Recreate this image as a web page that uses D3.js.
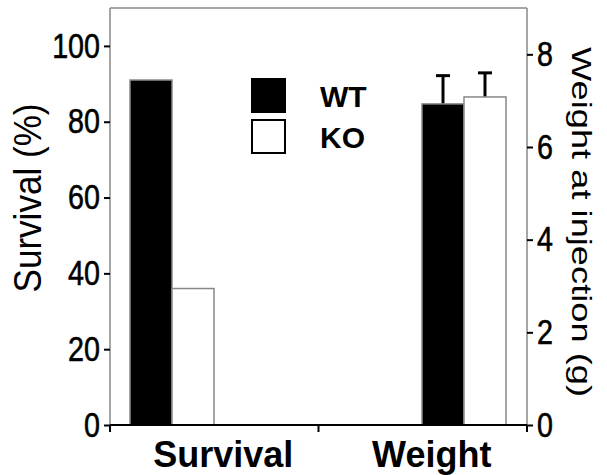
<!DOCTYPE html>
<html>
<head>
<meta charset="utf-8">
<script src="https://cdn.jsdelivr.net/npm/d3@7"></script>
<style>
  body { margin: 0; background: #fff; }
  .tick text { font-family: "Liberation Sans", Arial, sans-serif; font-size: 35px; stroke: #000; stroke-width: 0.6px; }
</style>
</head>
<body>
<div id="chart"></div>
<script>
// data
var categories = ["Survival", "Weight"];
var groups = ["WT", "KO"];
var survival = [91, 36];        // % (left axis)
var weight = [6.93, 7.08];      // g (right axis)
var weightErr = [0.61, 0.52];   // upper error
var leftTicks = [0, 20, 40, 60, 80, 100];
var rightTicks = [0, 2, 4, 6, 8];

var width = 607, height = 475;
var margin = { top: 8, right: 80, bottom: 50, left: 110 };
var innerW = 527 - margin.left, innerH = 425 - margin.top;
var squeeze = 0.82; // tick labels are a condensed face

var svg = d3.select("#chart").append("svg")
    .attr("width", width)
    .attr("height", height);

var g = svg.append("g")
    .attr("transform", "translate(" + margin.left + "," + margin.top + ")");

// scales
var x = d3.scaleBand().domain(categories).range([0, innerW]);
var barW = 42;
var inner = d3.scaleBand().domain(groups).range([0, barW * 2]);
var yL = d3.scaleLinear().domain([0, 110]).range([innerH, 0]);
var yR = d3.scaleLinear().domain([0, 9]).range([innerH, 0]);

// survival sits left in its band, weight sits right
var groupOffset = { Survival: 20, Weight: x.bandwidth() - 21 - barW * 2 };

var fills = { WT: "#000", KO: "#fff" };

// frame top
g.append("line")
    .attr("x1", 0).attr("x2", innerW)
    .attr("y1", 0).attr("y2", 0)
    .attr("stroke", "#888").attr("stroke-width", 1.5);

// survival bars
g.selectAll(".sbar")
    .data(groups)
    .enter().append("rect")
    .attr("x", function(d) { return x("Survival") + groupOffset.Survival + inner(d); })
    .attr("y", function(d, i) { return yL(survival[i]); })
    .attr("width", inner.bandwidth())
    .attr("height", function(d, i) { return innerH - yL(survival[i]); })
    .attr("fill", function(d) { return fills[d]; })
    .attr("stroke", "#888").attr("stroke-width", 1.5);

// weight error bars (upper only)
groups.forEach(function(d, i) {
    var cx = x("Weight") + groupOffset.Weight + inner(d) + inner.bandwidth() / 2;
    var top = yR(weight[i] + weightErr[i]);
    g.append("line")
        .attr("x1", cx).attr("x2", cx)
        .attr("y1", yR(weight[i])).attr("y2", top)
        .attr("stroke", "#000").attr("stroke-width", 3);
    g.append("line")
        .attr("x1", cx - 7).attr("x2", cx + 7)
        .attr("y1", top).attr("y2", top)
        .attr("stroke", "#000").attr("stroke-width", 3);
});

// weight bars
g.selectAll(".wbar")
    .data(groups)
    .enter().append("rect")
    .attr("x", function(d) { return x("Weight") + groupOffset.Weight + inner(d); })
    .attr("y", function(d, i) { return yR(weight[i]); })
    .attr("width", inner.bandwidth())
    .attr("height", function(d, i) { return innerH - yR(weight[i]); })
    .attr("fill", function(d) { return fills[d]; })
    .attr("stroke", "#888").attr("stroke-width", 1.5);

// left axis
var axL = g.append("g")
    .call(d3.axisLeft(yL).tickValues(leftTicks).tickSize(6));
axL.select(".domain").attr("stroke", "#888").attr("stroke-width", 1.5)
    .attr("d", "M0," + innerH + "V0");
axL.selectAll(".tick line").attr("stroke", "#000").attr("stroke-width", 2);
axL.selectAll(".tick text").attr("fill", "#000")
    .attr("x", -10 / squeeze)
    .attr("transform", "scale(" + squeeze + ",1)");

// right axis
var axR = g.append("g")
    .attr("transform", "translate(" + innerW + ",0)")
    .call(d3.axisRight(yR).tickValues(rightTicks).tickSize(6));
axR.select(".domain").attr("stroke", "#888").attr("stroke-width", 1.5)
    .attr("d", "M0," + innerH + "V0");
axR.selectAll(".tick line").attr("stroke", "#000").attr("stroke-width", 2);
axR.selectAll(".tick text").attr("fill", "#000")
    .attr("x", 10 / squeeze)
    .attr("transform", "scale(" + squeeze + ",1)");

// bottom axis
var axB = g.append("g")
    .attr("transform", "translate(0," + innerH + ")")
    .call(d3.axisBottom(x).tickSize(0).tickFormat(""));
axB.select(".domain").attr("stroke", "#000").attr("stroke-width", 2)
    .attr("d", "M0,0H" + innerW);
[0, x.step(), innerW].forEach(function(t) {
    axB.append("line")
        .attr("x1", t).attr("x2", t).attr("y1", 0).attr("y2", 7)
        .attr("stroke", "#000").attr("stroke-width", 2);
});

// category labels
g.selectAll(".cat")
    .data(categories)
    .enter().append("text")
    .attr("x", function(d) { return x(d) + x.bandwidth() / 2 + 9; })
    .attr("y", innerH + 42)
    .attr("text-anchor", "middle")
    .style("font-family", "Liberation Sans, Arial, sans-serif")
    .style("font-weight", "bold")
    .style("font-size", "36px")
    .text(function(d) { return d; });

// axis titles
svg.append("text")
    .attr("transform", "translate(41,198) rotate(-90)")
    .attr("text-anchor", "middle")
    .attr("textLength", 189)
    .attr("lengthAdjust", "spacingAndGlyphs")
    .style("font-family", "Liberation Sans, Arial, sans-serif")
    .style("font-size", "38px")
    .text("Survival (%)");

svg.append("text")
    .attr("transform", "translate(572,222) rotate(90)")
    .attr("text-anchor", "middle")
    .attr("textLength", 350)
    .attr("lengthAdjust", "spacingAndGlyphs")
    .style("font-family", "Liberation Sans, Arial, sans-serif")
    .style("font-size", "28px")
    .text("Weight at injection (g)");

// legend
var legend = svg.selectAll(".legend")
    .data(groups)
    .enter().append("g")
    .attr("transform", function(d, i) { return "translate(252," + (79 + i * 41) + ")"; });
legend.append("rect")
    .attr("width", 33).attr("height", 33)
    .attr("fill", function(d) { return fills[d]; })
    .attr("stroke", "#000").attr("stroke-width", 2);
legend.append("text")
    .attr("x", 68).attr("y", 28)
    .style("font-family", "Liberation Sans, Arial, sans-serif")
    .style("font-weight", "bold")
    .style("font-size", "30px")
    .text(function(d) { return d; });
</script>
</body>
</html>
